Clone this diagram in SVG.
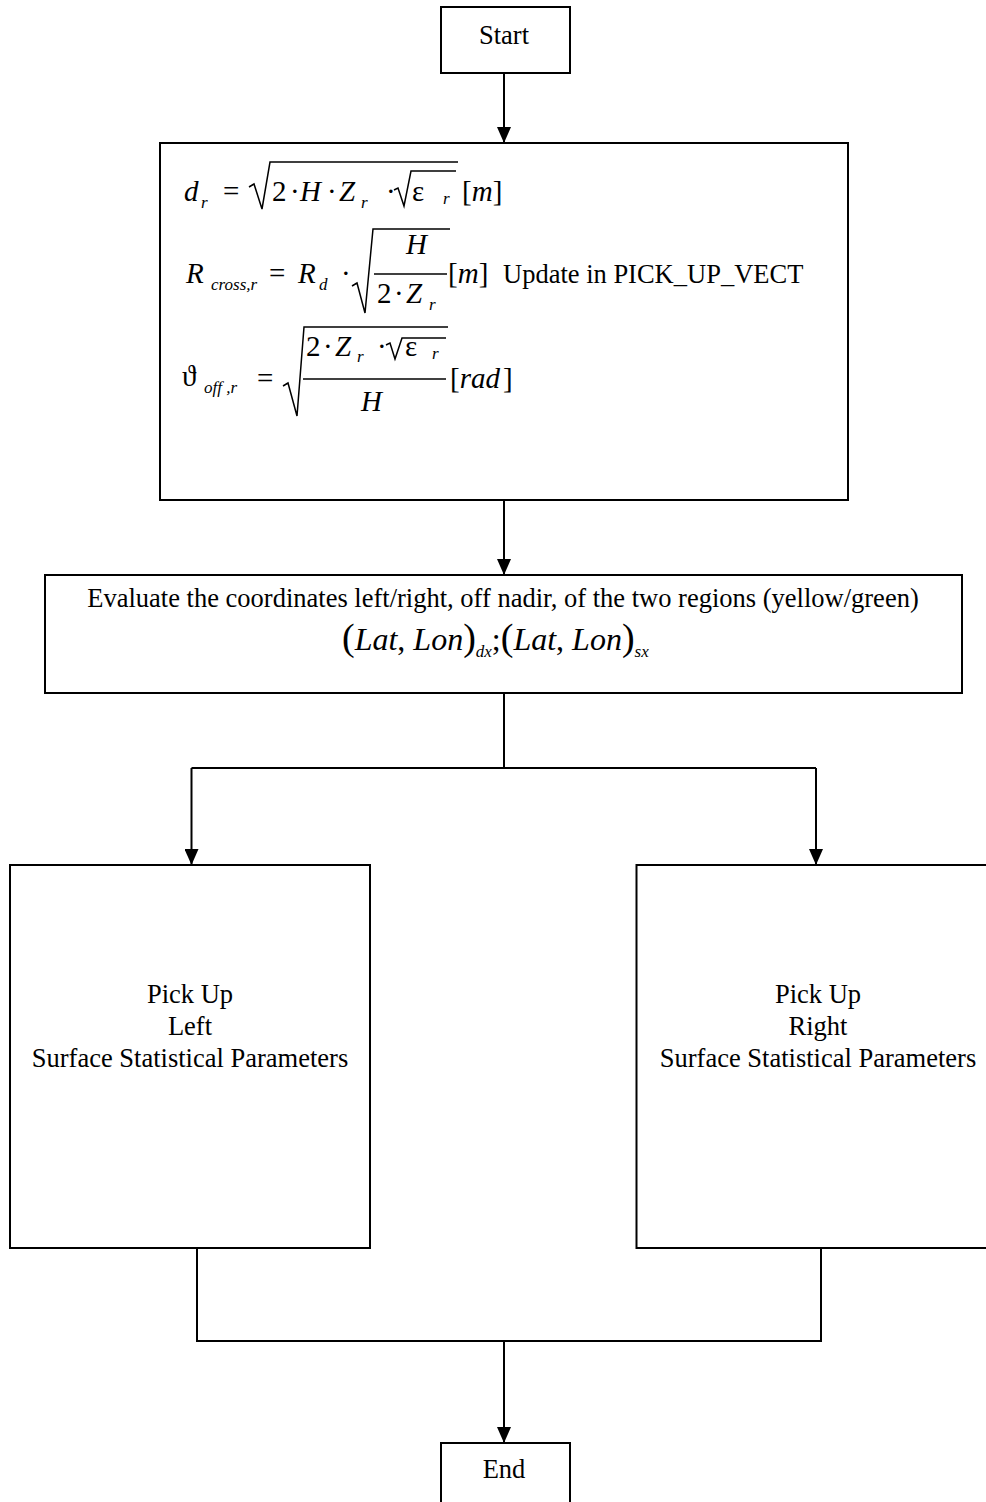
<svg xmlns="http://www.w3.org/2000/svg" width="986" height="1502" viewBox="0 0 986 1502">
<defs>
<marker id="ah" markerWidth="16" markerHeight="14" refX="16" refY="7" orient="auto" markerUnits="userSpaceOnUse" viewBox="0 0 16 14">
<path d="M0,0 L16,7 L0,14 Z" fill="#000"/>
</marker>
</defs>
<style>
.box{fill:#fff;stroke:#000;stroke-width:2}
.ln{fill:none;stroke:#000;stroke-width:2}
.arr{fill:none;stroke:#000;stroke-width:2;marker-end:url(#ah)}
.t{font-family:"Liberation Serif","Times New Roman",serif;font-size:26.5px;fill:#000}
.m{font-family:"Liberation Serif","DejaVu Serif",serif;font-size:29px;fill:#000}
.i{font-style:italic}
.s{font-size:17px;font-style:italic}
.rad{fill:none;stroke:#000;stroke-width:1.5;stroke-linejoin:miter}
.bar{stroke:#000;stroke-width:1.5}
</style>
<rect width="986" height="1502" fill="#fff"/>
<g id="connectors">
<line class="arr" x1="504" y1="73" x2="504" y2="143"/>
<line class="arr" x1="504" y1="500" x2="504" y2="575"/>
<polyline class="ln" points="504,693 504,768"/>
<polyline class="ln" points="191.5,768 816,768"/>
<line class="arr" x1="191.5" y1="768" x2="191.5" y2="865"/>
<line class="arr" x1="816" y1="768" x2="816" y2="865"/>
<polyline class="ln" points="197,1248 197,1341 821,1341 821,1248"/>
<line class="arr" x1="504" y1="1341" x2="504" y2="1443"/>
</g>
<g id="start">
<rect class="box" x="441" y="7" width="129" height="66"/>
<text class="t" x="504" y="44" text-anchor="middle">Start</text>
</g>
<g id="formulas">
<rect class="box" x="160" y="143" width="688" height="357"/>
<!-- formula 1 -->
<text class="m" y="201"><tspan x="184" class="i">d</tspan><tspan x="201" y="208" class="s">r</tspan><tspan x="223" y="201">=</tspan></text>
<polyline class="rad" points="249,187 254,184 262,209 270,162 458,162"/>
<text class="m" y="201"><tspan x="272">2</tspan><tspan x="290">·</tspan><tspan x="300" class="i">H</tspan><tspan x="327">·</tspan><tspan x="339" class="i">Z</tspan><tspan x="361" y="208" class="s">r</tspan><tspan x="386" y="201">·</tspan></text>
<polyline class="rad" points="394,190 398,188 404,206 411,171 456,171"/>
<text class="m" y="201"><tspan x="412">ε</tspan><tspan x="443" y="204" class="s">r</tspan><tspan x="462" y="201">[</tspan><tspan class="i">m</tspan><tspan>]</tspan></text>
<!-- formula 2 -->
<text class="m" y="283"><tspan x="186" class="i">R</tspan><tspan x="211" y="290" class="s">cross,r</tspan><tspan x="269" y="283">=</tspan><tspan x="298" class="i">R</tspan><tspan x="319" y="290" class="s">d</tspan><tspan x="341" y="283">·</tspan></text>
<polyline class="rad" points="352,286 357,283 365,313 373,229 450,229"/>
<text class="m" y="254"><tspan x="406" class="i">H</tspan></text>
<line class="bar" x1="374" y1="274" x2="447" y2="274"/>
<text class="m" y="303"><tspan x="377">2</tspan><tspan x="394">·</tspan><tspan x="406" class="i">Z</tspan><tspan x="429" y="310" class="s">r</tspan></text>
<text class="m" y="283"><tspan x="448">[</tspan><tspan class="i">m</tspan><tspan>]</tspan></text>
<text class="t" x="503" y="283">Update in PICK_UP_VECT</text>
<!-- formula 3 -->
<text class="m" y="386"><tspan x="182">ϑ</tspan><tspan x="204" y="393" class="s">off ,r</tspan><tspan x="257" y="388">=</tspan></text>
<polyline class="rad" points="283,386 288,383 297,416 304,327 448,327"/>
<text class="m" y="356"><tspan x="306">2</tspan><tspan x="323">·</tspan><tspan x="335" class="i">Z</tspan><tspan x="357" y="362" class="s">r</tspan><tspan x="377" y="356">·</tspan></text>
<polyline class="rad" points="386,345 390,343 395,359 402,338 446,338"/>
<text class="m" y="356"><tspan x="405">ε</tspan><tspan x="432" y="359" class="s">r</tspan></text>
<line class="bar" x1="303" y1="379" x2="446" y2="379"/>
<text class="m" y="411"><tspan x="361" class="i">H</tspan></text>
<text class="m" y="388"><tspan x="450">[</tspan><tspan class="i">rad</tspan><tspan dx="3">]</tspan></text>
</g>
<g id="evaluate">
<rect class="box" x="45" y="575" width="917" height="118"/>
<text class="t" x="503" y="607" text-anchor="middle">Evaluate the coordinates left/right, off nadir, of the two regions (yellow/green)</text>
<text class="m" y="650" style="font-size:32px"><tspan x="342" style="font-size:38px">(</tspan><tspan class="i">Lat</tspan><tspan>, </tspan><tspan class="i">Lon</tspan><tspan style="font-size:38px">)</tspan><tspan y="657" class="s">dx</tspan><tspan y="650">;</tspan><tspan style="font-size:38px">(</tspan><tspan class="i">Lat</tspan><tspan>, </tspan><tspan class="i">Lon</tspan><tspan style="font-size:38px">)</tspan><tspan y="657" class="s">sx</tspan></text>
</g>
<g id="left">
<rect class="box" x="10" y="865" width="360" height="383"/>
<text class="t" text-anchor="middle"><tspan x="190" y="1003">Pick Up</tspan><tspan x="190" y="1035">Left</tspan><tspan x="190" y="1067">Surface Statistical Parameters</tspan></text>
</g>
<g id="right">
<rect class="box" x="636.5" y="865" width="365" height="383"/>
<text class="t" text-anchor="middle"><tspan x="818" y="1003">Pick Up</tspan><tspan x="818" y="1035">Right</tspan><tspan x="818" y="1067">Surface Statistical Parameters</tspan></text>
</g>
<g id="end">
<rect class="box" x="441" y="1443" width="129" height="70"/>
<text class="t" x="504" y="1478" text-anchor="middle">End</text>
</g>
</svg>
